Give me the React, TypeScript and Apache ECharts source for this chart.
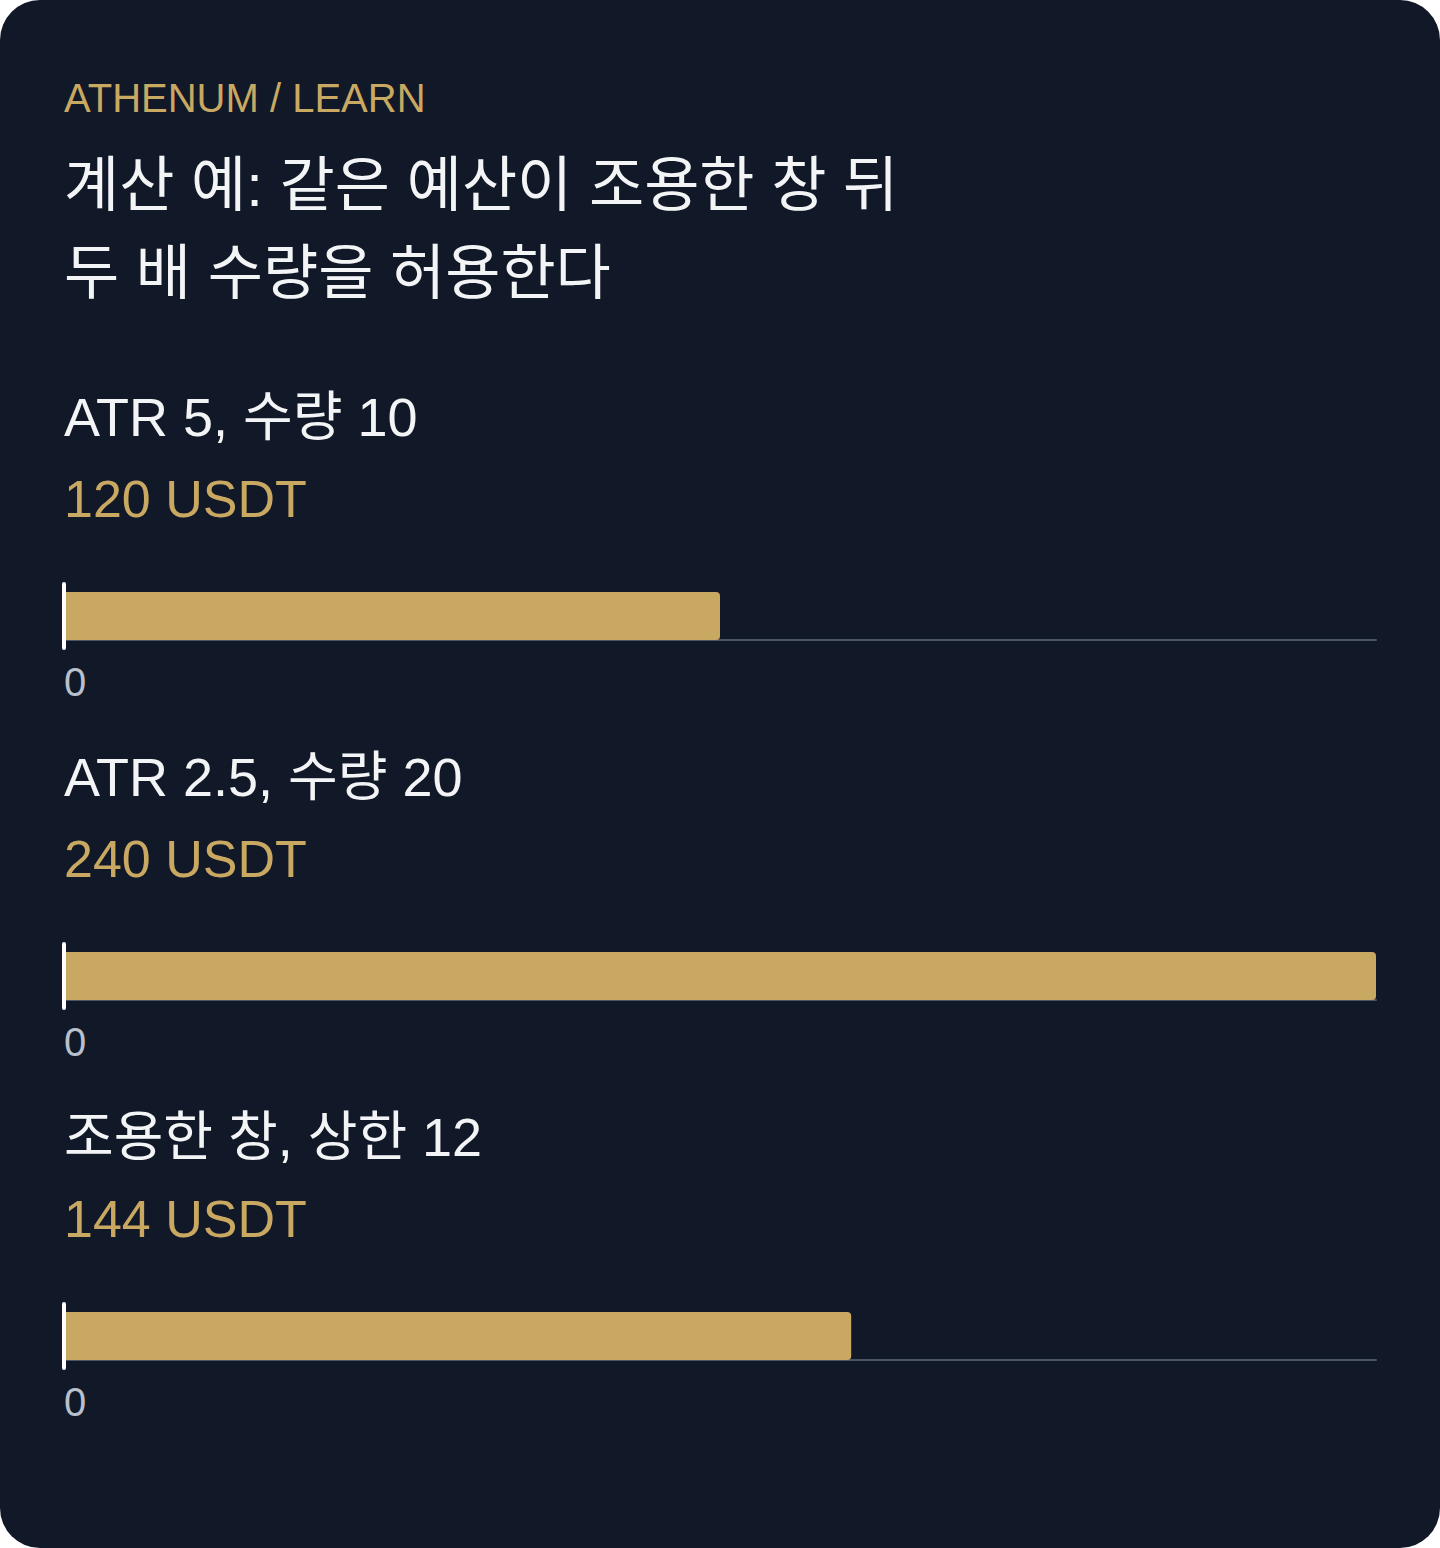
import React, { useEffect, useRef } from "react";
import * as echarts from "echarts";

// values
const kicker = "ATHENUM / LEARN";
const titleLines = ["계산 예: 같은 예산이 조용한 창 뒤", "두 배 수량을 허용한다"];
const rowLabels = ["ATR 5, 수량 10", "ATR 2.5, 수량 20", "조용한 창, 상한 12"];
const rowValues = [120, 240, 144];
const axisMax = 240;
const unit = "USDT";

const FONT = "'Liberation Sans', 'Noto Sans CJK KR', sans-serif";
const GOLD = "#C9A862";
const WHITE = "#F3F4F6";
const BG = "#111827";

const App = () => {
  const chartRef = useRef<HTMLDivElement>(null);

  useEffect(() => {
    if (!chartRef.current) return;
    const chart = echarts.init(chartRef.current, null, { renderer: "svg" });

    const rowTop = 584; // first grid top
    const rowStep = 360;

    const texts: any[] = [
      {
        type: "text",
        x: 64,
        y: 98,
        style: { text: kicker, fill: GOLD, font: `40px ${FONT}`, verticalAlign: "middle" },
      },
      ...titleLines.map((line, i) => ({
        type: "text",
        x: 64,
        y: 185 + i * 88,
        style: { text: line, fill: WHITE, font: `60px ${FONT}`, verticalAlign: "middle" },
      })),
    ];

    rowLabels.forEach((label, i) => {
      texts.push({
        type: "text",
        x: 64,
        y: 417 + i * rowStep,
        style: { text: label, fill: WHITE, font: `54px ${FONT}`, verticalAlign: "middle" },
      });
      texts.push({
        type: "text",
        x: 64,
        y: 499 + i * rowStep,
        style: { text: `${rowValues[i]} ${unit}`, fill: GOLD, font: `52px ${FONT}`, verticalAlign: "middle" },
      });
    });

    const option = {
      animation: false,
      backgroundColor: "transparent",
      graphic: texts,
      grid: rowLabels.map((_, i) => ({
        left: 64,
        right: 64,
        top: rowTop + i * rowStep,
        height: 64,
        containLabel: false,
      })),
      xAxis: rowLabels.map((_, i) => ({
        type: "value",
        gridIndex: i,
        min: 0,
        max: axisMax,
        interval: axisMax,
        offset: -8,
        splitLine: { show: false },
        axisTick: { show: false },
        axisLine: { show: true, lineStyle: { color: "#4B5563", width: 2 } },
        axisLabel: {
          formatter: (v: number) => (v === 0 ? "0" : ""),
          color: "#B8C0CC",
          fontSize: 40,
          fontFamily: FONT,
          align: "left",
          verticalAlign: "middle",
          margin: 42,
        },
      })),
      yAxis: rowLabels.map((label, i) => ({
        type: "category",
        gridIndex: i,
        data: [label],
        z: 5,
        axisLine: { show: true, lineStyle: { color: "#FFFFFF", width: 4 } },
        axisTick: { show: false },
        axisLabel: { show: false },
        splitLine: { show: false },
      })),
      series: rowValues.map((v, i) => ({
        type: "bar",
        xAxisIndex: i,
        yAxisIndex: i,
        data: [v],
        barWidth: 48,
        itemStyle: { color: GOLD, borderRadius: [0, 4, 4, 0] },
        silent: true,
      })),
    };

    chart.setOption(option);

    return () => {
      chart.dispose();
    };
  }, []);

  return (
    <div
      style={{
        position: "absolute",
        left: 0,
        top: 0,
        width: 1440,
        height: 1548,
        background: BG,
        borderRadius: 40,
        overflow: "hidden",
      }}
    >
      <div ref={chartRef} style={{ width: "100%", height: "100%" }}></div>
    </div>
  );
};

export default App;
